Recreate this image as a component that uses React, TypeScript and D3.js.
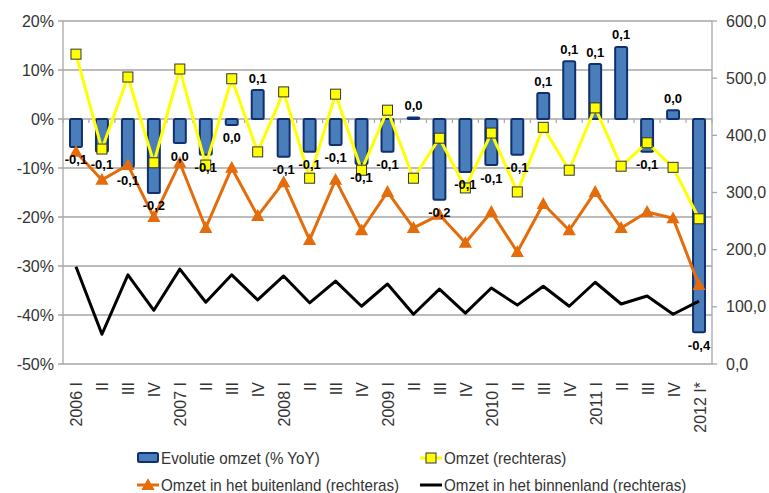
import React from "react";
import * as d3 from "d3";

const categories = ["2006 I","II","III","IV","2007 I","II","III","IV","2008 I","II","III","IV","2009 I","II","III","IV","2010 I","II","III","IV","2011 I","II","III","IV","2012 I*"];
const evolutie = [-5.7,-6.7,-9.8,-15.1,-4.9,-7.3,-1.2,5.9,-7.7,-6.7,-5.3,-9.2,-6.7,0.3,-16.5,-10.8,-9.4,-7.3,5.3,11.8,11.2,14.7,-6.7,1.8,-43.5];
const omzet = [542,376,502,352,516,348,499,371,476,325,472,339,444,325,395,308,404,301,414,339,448,346,387,344,254];
const buitenland = [371,322,348,257,352,238,343,259,318,217,322,234,301,238,261,212,266,196,280,234,301,238,266,255,138];
const binnenland = [170,52,156,94,166,108,156,112,154,107,145,101,140,87,131,89,133,103,136,101,143,105,119,87,110];
const leftTicks = [20,10,0,-10,-20,-30,-40,-50];
const rightTicks = [600,500,400,300,200,100,0];
const legendItems = ["Evolutie omzet (% YoY)","Omzet (rechteras)","Omzet in het buitenland (rechteras)","Omzet in het binnenland (rechteras)"];

const W = 769, H = 493;
const L = 63, R = 712, T = 21, B = 364;
const FONT = "'Liberation Sans Narrow', 'Arial Narrow', 'Liberation Sans', Arial, sans-serif";
const BAR_FILL = "#4a7ebb";
const BAR_STROKE = "#0f2f6e";
const YELLOW = "#ffff00";
const ORANGE = "#e46c0a";
const GRID = "#a6a6a6";
const TEXT = "#333333";

function fmtLabel(v: number) {
  const r = Math.round(v / 10) / 10;
  if (r === 0) return "0,0";
  return r.toFixed(1).replace(".", ",");
}

function tri(cx: number, cy: number, s: number) {
  return `M${cx},${cy - s * 0.62}L${cx + s * 0.6},${cy + s * 0.45}L${cx - s * 0.6},${cy + s * 0.45}Z`;
}

function LegendText({ x, y, children }: { x: number; y: number; children: string }) {
  return (
    <g transform={`translate(${x},${y}) scale(0.95,1)`}>
      <text x={0} y={0} dominantBaseline="central">{children}</text>
    </g>
  );
}

export default function App() {
  const x = d3.scaleBand<number>().domain(d3.range(categories.length)).range([L, R]).padding(0);
  const yL = d3.scaleLinear().domain([-50, 20]).range([B, T]);
  const yR = d3.scaleLinear().domain([0, 600]).range([B, T]);
  const cx = (i: number) => (x(i) as number) + x.bandwidth() / 2;
  const bw = x.bandwidth() * 0.46;
  const line = d3.line<number>().x((_, i) => cx(i)).y((d) => yR(d));

  return (
    <svg width={W} height={H} style={{ position: "absolute", left: 0, top: 0, fontFamily: FONT }}>
      <rect x={0} y={0} width={W} height={H} fill="#fff" />
      {leftTicks.map((t) => (
        <g key={"g" + t}>
          <line x1={L - 5} x2={R} y1={yL(t)} y2={yL(t)} stroke={GRID} strokeWidth={1.3} />
          <text x={L - 9} y={yL(t)} textAnchor="end" dominantBaseline="central" fontSize={16} fill={TEXT}>{t + "%"}</text>
        </g>
      ))}
      {rightTicks.map((t) => (
        <g key={"r" + t}>
          <line x1={R} x2={R + 5} y1={yR(t)} y2={yR(t)} stroke={GRID} strokeWidth={1.3} />
          <text x={R + 14} y={yR(t)} dominantBaseline="central" fontSize={16} fill={TEXT}>{t.toFixed(1).replace(".", ",")}</text>
        </g>
      ))}
      <line x1={L} x2={L} y1={T} y2={B} stroke={GRID} strokeWidth={1.3} />
      <line x1={R} x2={R} y1={T} y2={B} stroke={GRID} strokeWidth={1.3} />
      {d3.range(categories.length + 1).map((i) => (
        <line key={"ct" + i} x1={L + i * x.bandwidth()} x2={L + i * x.bandwidth()} y1={yL(0)} y2={yL(0) + 4} stroke={GRID} strokeWidth={1.2} />
      ))}
      {evolutie.map((v, i) => (
        <rect key={"b" + i} x={cx(i) - bw / 2} y={Math.min(yL(v), yL(0))} width={bw} height={Math.max(Math.abs(yL(v) - yL(0)), 1.5)}
          fill={BAR_FILL} stroke={BAR_STROKE} strokeWidth={2} rx={1.5} />
      ))}
      <path d={line(buitenland) || ""} fill="none" stroke={ORANGE} strokeWidth={3} strokeLinejoin="round" />
      {buitenland.map((v, i) => (
        <path key={"t" + i} d={tri(cx(i), yR(v), 11)} fill={ORANGE} />
      ))}
      <path d={line(binnenland) || ""} fill="none" stroke="#000" strokeWidth={3} strokeLinejoin="round" />
      <path d={line(omzet) || ""} fill="none" stroke={YELLOW} strokeWidth={3} strokeLinejoin="round" />
      {omzet.map((v, i) => (
        <rect key={"s" + i} x={cx(i) - 5} y={yR(v) - 5} width={10} height={10} fill={YELLOW} stroke="#333" strokeWidth={1} />
      ))}
      {evolutie.map((v, i) => (
        <text key={"l" + i} x={cx(i)} y={v < 0 ? yL(v) + 13 : yL(v) - 12} textAnchor="middle" dominantBaseline="central"
          fontSize={13} fontWeight="bold" fill="#000">{fmtLabel(v)}</text>
      ))}
      {categories.map((c, i) => (
        <text key={"c" + i} transform={`translate(${cx(i) + 1},${382}) rotate(-90)`} textAnchor="end" dominantBaseline="central"
          fontSize={16} fill={TEXT}>{c}</text>
      ))}
      {/* legend */}
      <g fontSize={16} fill={TEXT}>
        <rect x={138} y={453} width={20} height={9} fill={BAR_FILL} stroke={BAR_STROKE} strokeWidth={2} rx={1.5} />
        <LegendText x={161} y={458}>{legendItems[0]}</LegendText>
        <line x1={420} x2={442} y1={458} y2={458} stroke={YELLOW} strokeWidth={3} />
        <rect x={426} y={453} width={10} height={10} fill={YELLOW} stroke="#333" strokeWidth={1} />
        <LegendText x={444} y={458}>{legendItems[1]}</LegendText>
        <line x1={137} x2={159} y1={485} y2={485} stroke={ORANGE} strokeWidth={3} />
        <path d={tri(148, 485, 11)} fill={ORANGE} />
        <LegendText x={161} y={485}>{legendItems[2]}</LegendText>
        <line x1={420} x2={442} y1={485} y2={485} stroke="#000" strokeWidth={3} />
        <LegendText x={444} y={485}>{legendItems[3]}</LegendText>
      </g>
    </svg>
  );
}
